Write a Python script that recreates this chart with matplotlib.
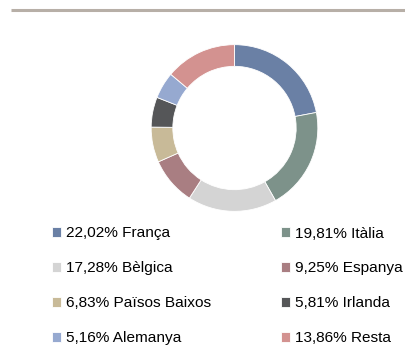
"""
Donut chart of the distribution by country with a two-column legend
"""

import matplotlib.pyplot as plt
from matplotlib.lines import Line2D

# Data
countries = ['França', 'Itàlia', 'Bèlgica', 'Espanya',
             'Països Baixos', 'Irlanda', 'Alemanya', 'Resta']
shares = [22.02, 19.81, 17.28, 9.25, 6.83, 5.81, 5.16, 13.86]
colors = ['#6a80a5', '#7d928a', '#d4d4d4', '#a97e82',
          '#c8ba98', '#555658', '#96a9d0', '#d39290']

W, H = 406, 346
fig = plt.figure(figsize=(W / 100, H / 100), dpi=100)
plt.rcParams['font.family'] = ['Liberation Sans', 'DejaVu Sans']

# Rule under the (cropped) header
fig.add_artist(Line2D([11 / W, 1], [1 - 10 / H, 1 - 10 / H],
                      color='#b7afa7', lw=2.2, solid_capstyle='butt'))

# Donut
cx, cy, r = 234.5, H - 128, 85
ax = fig.add_axes([(cx - r) / W, (cy - r) / H, 2 * r / W, 2 * r / H])
wedges, _ = ax.pie(shares, colors=colors, startangle=90, counterclock=False,
                   radius=1, wedgeprops=dict(width=0.26, edgecolor='white',
                                             linewidth=0.6))
ax.set_xlim(-1.02, 1.02)
ax.set_ylim(-1.02, 1.02)
ax.axis('off')

# Legend, filled row by row
labels = ['%s %s' % (('%.2f%%' % v).replace('.', ','), c)
          for v, c in zip(shares, countries)]
order = [0, 2, 4, 6, 1, 3, 5, 7]
fig.legend([wedges[i] for i in order], [labels[i] for i in order],
           ncol=2, loc='upper left', bbox_to_anchor=(52 / W, 1 - 226.5 / H),
           frameon=False, fontsize=11.1, handlelength=0.6, handleheight=0.6,
           handletextpad=0.3, labelspacing=1.36, columnspacing=4.52,
           borderaxespad=0, borderpad=0)

plt.savefig('out.png', dpi=100)
